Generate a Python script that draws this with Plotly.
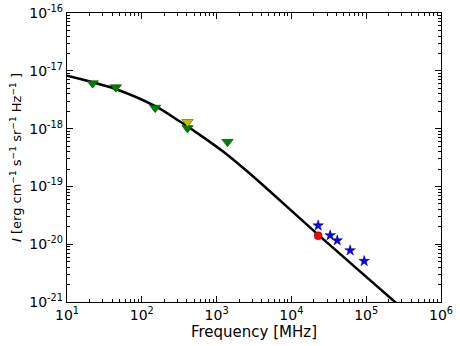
"""
Spectrum plot: model intensity curve with measured points
"""
import plotly.graph_objects as go

# Model curve
curve_freq = [10, 22.4, 45.7, 158, 316, 631, 1259, 2512, 5012, 22900, 242700, 398000]
curve_int = [8.2e-18, 6.31e-18, 4.79e-18, 2.37e-18, 1.35e-18, 7.41e-19, 3.89e-19,
             1.86e-19, 8.51e-20, 1.45e-20, 1.0e-21, 5.6e-22]

# Low frequency upper limits (green)
green_freq = [22, 45, 151, 408, 1400]
green_int = [6.1e-18, 5.2e-18, 2.3e-18, 1.02e-18, 5.9e-19]

# Single yellow limit
yellow_freq = [408]
yellow_int = [1.3e-18]

# Red point
red_freq = [22800]
red_int = [1.4e-20]

# Blue stars
blue_freq = [22800, 33000, 41000, 61000, 94000]
blue_int = [2.1e-20, 1.42e-20, 1.16e-20, 7.8e-21, 5.1e-21]

x_ticks = [1e1, 1e2, 1e3, 1e4, 1e5, 1e6]
x_labels = ["10<sup>1</sup>", "10<sup>2</sup>", "10<sup>3</sup>",
            "10<sup>4</sup>", "10<sup>5</sup>", "10<sup>6</sup>"]
y_ticks = [1e-21, 1e-20, 1e-19, 1e-18, 1e-17, 1e-16]
y_labels = ["10<sup>-21</sup>", "10<sup>-20</sup>", "10<sup>-19</sup>",
            "10<sup>-18</sup>", "10<sup>-17</sup>", "10<sup>-16</sup>"]

x_minor = [m * 10 ** e for e in range(1, 6) for m in range(2, 10)]
y_minor = [m * 10.0 ** e for e in range(-21, -16) for m in range(2, 10)]

fig = go.Figure()

fig.add_trace(go.Scatter(
    x=curve_freq, y=curve_int, mode="lines",
    line=dict(color="black", width=2.5, shape="spline", smoothing=0.8),
    showlegend=False
))
fig.add_trace(go.Scatter(
    x=green_freq, y=green_int, mode="markers",
    marker=dict(symbol="triangle-down", size=10, color="#008000",
                line=dict(color="#003300", width=0.5)),
    showlegend=False
))
fig.add_trace(go.Scatter(
    x=yellow_freq, y=yellow_int, mode="markers",
    marker=dict(symbol="triangle-down", size=10, color="#bfbf00",
                line=dict(color="#333300", width=0.5)),
    showlegend=False
))
fig.add_trace(go.Scatter(
    x=red_freq, y=red_int, mode="markers",
    marker=dict(symbol="circle", size=8, color="#ff0000",
                line=dict(color="#550000", width=0.5)),
    showlegend=False
))
fig.add_trace(go.Scatter(
    x=blue_freq, y=blue_int, mode="markers",
    marker=dict(symbol="star", size=8, color="#0000ff",
                line=dict(color="#000055", width=0.5)),
    showlegend=False
))

axis_common = dict(
    type="log",
    automargin=False,
    showgrid=False,
    zeroline=False,
    showline=True,
    linecolor="black",
    linewidth=1.2,
    mirror="ticks",
    ticks="inside",
    ticklen=6,
    tickcolor="black",
    tickfont=dict(size=14, color="black"),
)

fig.update_xaxes(
    range=[1, 6],
    tickvals=x_ticks, ticktext=x_labels,
    minor=dict(tickvals=x_minor, ticks="inside", ticklen=3, tickcolor="black"),
    title=dict(text="Frequency [MHz]", font=dict(size=15, color="black"), standoff=4),
    **axis_common
)
fig.update_yaxes(
    range=[-21, -16],
    tickvals=y_ticks, ticktext=y_labels,
    minor=dict(tickvals=y_minor, ticks="inside", ticklen=3, tickcolor="black"),
    title=dict(text="<i>I</i> [erg cm<sup>−1</sup> s<sup>−1</sup> sr<sup>−1</sup> Hz<sup>−1</sup> ]",
               font=dict(size=13, color="black"), standoff=4),
    **axis_common
)

fig.update_layout(
    width=460,
    height=346,
    margin=dict(l=67, r=19, t=13, b=44),
    plot_bgcolor="white",
    paper_bgcolor="white",
    font=dict(family="DejaVu Sans", color="black"),
)

# page body has a default margin; drop it so the figure sits at the window corner
fig.write_html("out.html", config={"displayModeBar": False},
               post_script="document.body.style.margin='0';")
